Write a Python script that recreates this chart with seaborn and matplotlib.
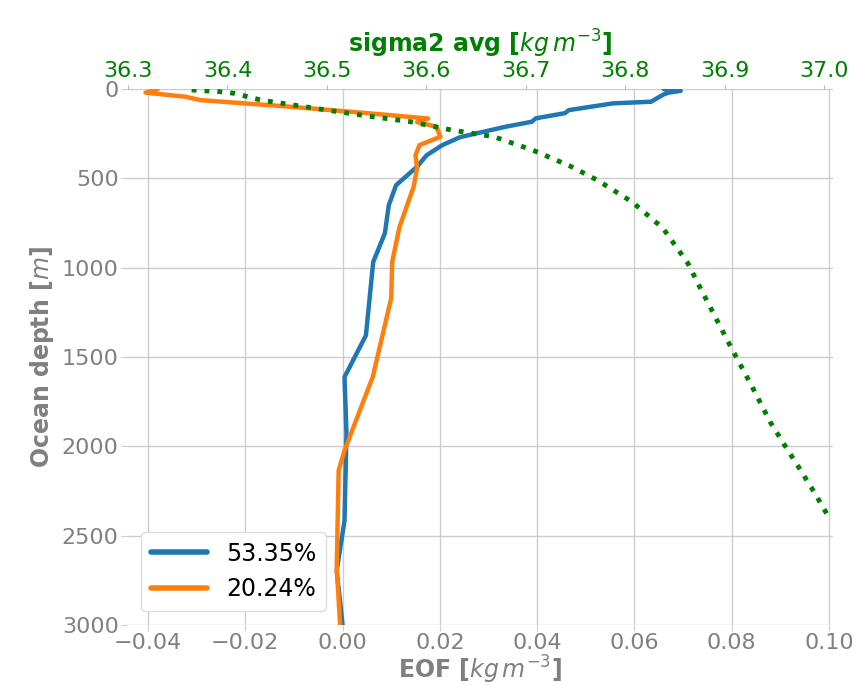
import numpy as np
import pandas as pd
import matplotlib
matplotlib.use("Agg")
import matplotlib.pyplot as plt
import seaborn as sns

# ===================== DATA =====================
# EOF mode 1 (53.35%)
eof1_depth = [0, 10, 20, 30, 71, 80, 118, 135, 164, 183, 211, 245, 270, 314, 370,
              435, 538, 650, 807, 968, 1379, 1612, 1929, 2416, 2696, 3000]
eof1_value = [0.066, 0.0695, 0.067, 0.066, 0.0634, 0.0556, 0.0465, 0.0457, 0.0397,
              0.0389, 0.0335, 0.028, 0.0241, 0.0205, 0.0173, 0.0153, 0.011, 0.0095,
              0.0087, 0.0063, 0.0048, 0.0004, 0.0008, 0.0004, -0.0012, 0.0]

# EOF mode 2 (20.24%)
eof2_depth = [0, 20, 43, 62, 99, 135, 165, 185, 211, 267, 314, 370, 443, 548, 772,
              968, 1170, 1612, 2023, 2135, 2677, 3000]
eof2_value = [-0.038, -0.0405, -0.0323, -0.0292, -0.0107, 0.0051, 0.0176, 0.0153,
              0.0193, 0.0201, 0.0158, 0.015, 0.0153, 0.0146, 0.0117, 0.0102, 0.0100,
              0.0062, 0.0004, -0.0008, -0.0012, -0.0005]

eof_labels = ["53.35%", "20.24%"]

# mean sigma2 profile
sig_depth = [5, 15, 24, 62, 107, 151, 183, 230, 267, 342, 432, 510, 632, 779, 975,
             1108, 1183, 1452, 1659, 1865, 1999, 2130, 2265, 2399]
sig_value = [36.364, 36.393, 36.407, 36.434, 36.487, 36.541, 36.584, 36.626, 36.668,
             36.707, 36.745, 36.772, 36.807, 36.838, 36.863, 36.875, 36.882, 36.907,
             36.927, 36.946, 36.961, 36.976, 36.991, 37.005]

df = pd.concat([
    pd.DataFrame({"depth": eof1_depth, "eof": eof1_value, "mode": eof_labels[0]}),
    pd.DataFrame({"depth": eof2_depth, "eof": eof2_value, "mode": eof_labels[1]}),
])
df_sig = pd.DataFrame({"depth": sig_depth, "sigma2": sig_value})

# ===================== STYLE =====================
sns.set_style("whitegrid")
grey = "#808080"
green = "green"

fig = plt.figure(figsize=(8.6, 6.85), dpi=100)
ax = fig.add_axes([0.1477, 0.0876, 0.8209, 0.7824])

# ===================== EOF PROFILES =====================
sns.lineplot(data=df, x="eof", y="depth", hue="mode", sort=False, orient="y",
             estimator=None, palette=["#1f77b4", "#ff7f0e"], linewidth=3.2, ax=ax)

ax.set_xlim(-0.0443, 0.1008)
ax.set_ylim(3000, 0)
ax.set_xticks([-0.04, -0.02, 0.0, 0.02, 0.04, 0.06, 0.08, 0.10])
ax.set_yticks([0, 500, 1000, 1500, 2000, 2500, 3000])
ax.set_xticklabels(["\u22120.04", "\u22120.02", "0.00", "0.02", "0.04", "0.06", "0.08", "0.10"])
ax.tick_params(axis="both", labelsize=16, labelcolor=grey, length=4,
               color="#cccccc", left=True, bottom=True, pad=2)
ax.set_xlabel("EOF [$kg\\,m^{-3}$]", fontsize=17, fontweight="bold", color=grey,
              labelpad=0)
ax.set_ylabel("Ocean depth [$m$]", fontsize=17, fontweight="bold", color=grey)
for s in ax.spines.values():
    s.set_visible(False)
ax.grid(True, color="#cccccc", linewidth=1)

leg = ax.legend(loc="lower left", fontsize=17, handlelength=2.4, framealpha=1,
                edgecolor="#dddddd", borderaxespad=0.6)
for line in leg.get_lines():
    line.set_linewidth(4)
for t in leg.get_texts():
    t.set_color("black")

# ===================== SIGMA2 (TOP AXIS) =====================
ax2 = ax.twiny()
sns.lineplot(data=df_sig, x="sigma2", y="depth", sort=False, orient="y",
             estimator=None, color=green, linestyle=":", linewidth=3.5, ax=ax2)
ax2.set_xlim(36.299, 37.009)
ax2.set_ylim(3000, 0)
ax2.set_xticks([36.3, 36.4, 36.5, 36.6, 36.7, 36.8, 36.9, 37.0])
ax2.set_xticklabels(["36.3", "36.4", "36.5", "36.6", "36.7", "36.8", "36.9", "37.0"])
ax2.grid(False)
ax2.tick_params(axis="x", top=True, length=3, color="#99cc99", labelsize=16,
                labelcolor=green, pad=3)
ax2.set_xlabel("sigma2 avg [$kg\\,m^{-3}$]", fontsize=17, fontweight="bold", color=green,
               labelpad=6)
ax2.set_ylabel("")
for s in ax2.spines.values():
    s.set_visible(False)

fig.savefig("out.png", dpi=100)
plt.close(fig)
